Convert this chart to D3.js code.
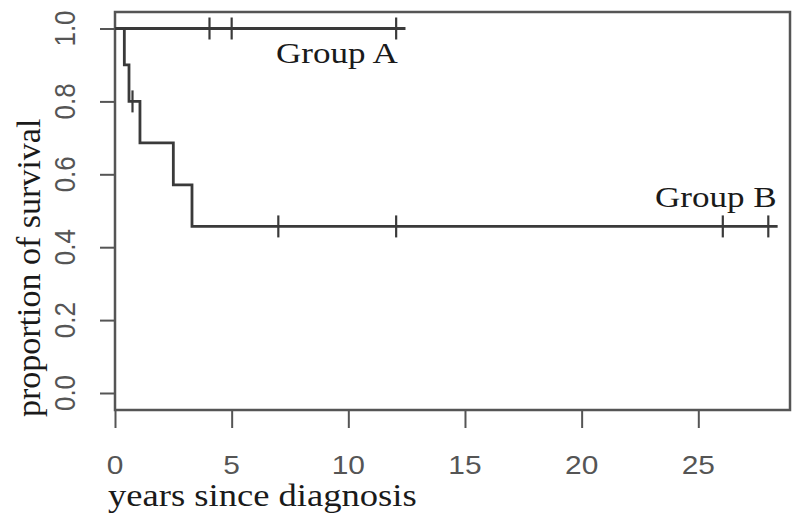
<!DOCTYPE html>
<html>
<head>
<meta charset="utf-8">
<script src="https://cdn.jsdelivr.net/npm/d3@7"></script>
<style>
  body { margin: 0; background: #fff; }
  svg { display: block; }
</style>
</head>
<body>
<svg id="chart" width="800" height="522"></svg>
<script>
// Kaplan-Meier estimates
const groupATimes = [0, 12.45]
const groupASurv = [1.0, 1.0]
const groupACensor = [4.05, 5.0, 12.05]

const groupBTimes = [0, 0.4, 0.6, 1.07, 2.5, 3.3, 28.4]
const groupBSurv = [1.0, 0.9, 0.8, 0.686, 0.571, 0.457, 0.457]
const groupBCensor = [0.75, 7.0, 12.05, 26.05, 28.0]

const xTicks = [0, 5, 10, 15, 20, 25]
const yTicks = [0, 0.2, 0.4, 0.6, 0.8, 1.0]

const BOX = { left: 115, right: 790, top: 12, bottom: 410 }
const LINE = '#3a3a3a'
const STRETCH = 1.15

const svg = d3.select('#chart')

const x = d3.scaleLinear().domain([0, 28.93]).range([BOX.left, BOX.right])
const y = d3.scaleLinear().domain([0, 1]).range([393, 28.5])

const toPts = (ts, ss) => ts.map((t, i) => ({ t: t, s: ss[i] }))
const stepAt = (ts, ss, t) => {
  let v = ss[0]
  ts.forEach((tt, i) => { if (tt <= t) v = ss[i] })
  return v
}

// axes
const gx = svg.append('g')
  .attr('transform', 'translate(0,' + BOX.bottom + ')')
  .call(d3.axisBottom(x).tickValues(xTicks).tickSize(18).tickPadding(0).tickFormat(d3.format('d')))
gx.select('.domain').remove()
gx.selectAll('line').attr('stroke', '#555').attr('stroke-width', 2)
gx.selectAll('text').remove()
xTicks.forEach(function(t) {
  svg.append('text')
    .attr('transform', 'translate(' + x(t) + ',474) scale(' + STRETCH + ',1)')
    .attr('text-anchor', 'middle')
    .attr('font-family', 'Liberation Sans, Arial, sans-serif')
    .attr('font-size', 26)
    .attr('fill', '#555')
    .text(t)
})

const gy = svg.append('g')
  .attr('transform', 'translate(' + BOX.left + ',0)')
  .call(d3.axisLeft(y).tickValues(yTicks).tickSize(15))
gy.select('.domain').remove()
gy.selectAll('line').attr('stroke', '#555').attr('stroke-width', 2)
gy.selectAll('text').remove()
yTicks.forEach(function(v) {
  svg.append('text')
    .attr('transform', 'translate(75,' + y(v) + ') rotate(-90) scale(1,' + STRETCH + ')')
    .attr('text-anchor', 'middle')
    .attr('font-family', 'Liberation Sans, Arial, sans-serif')
    .attr('font-size', 26)
    .attr('fill', '#555')
    .text(d3.format('.1f')(v))
})

// box
svg.append('rect')
  .attr('x', BOX.left).attr('y', BOX.top)
  .attr('width', BOX.right - BOX.left).attr('height', BOX.bottom - BOX.top)
  .attr('fill', 'none').attr('stroke', '#555').attr('stroke-width', 2.5)

// survival curves
const line = d3.line()
  .curve(d3.curveStepAfter)
  .x(function(d) { return x(d.t) })
  .y(function(d) { return y(d.s) })

function drawCurve(ts, ss, censor) {
  svg.append('path')
    .datum(toPts(ts, ss))
    .attr('d', line)
    .attr('fill', 'none')
    .attr('stroke', LINE)
    .attr('stroke-width', 2.8)
  svg.selectAll(null)
    .data(censor)
    .enter()
    .append('line')
    .attr('x1', function(d) { return x(d) })
    .attr('x2', function(d) { return x(d) })
    .attr('y1', function(d) { return y(stepAt(ts, ss, d)) - 11 })
    .attr('y2', function(d) { return y(stepAt(ts, ss, d)) + 11 })
    .attr('stroke', LINE)
    .attr('stroke-width', 2.2)
}

drawCurve(groupATimes, groupASurv, groupACensor)
drawCurve(groupBTimes, groupBSurv, groupBCensor)

// labels
function serif(txt, tx, ty, size, sx, sy) {
  svg.append('text')
    .attr('transform', 'translate(' + tx + ',' + ty + ')' + (sy ? ' rotate(-90)' : '') + ' scale(' + sx + ',1)')
    .attr('font-family', 'Liberation Serif, Times New Roman, serif')
    .attr('font-size', size)
    .attr('fill', '#1a1a1a')
    .text(txt)
}
serif('Group A', 276, 63, 30.5, STRETCH)
serif('Group B', 655, 207, 30.5, STRETCH)
serif('years since diagnosis', 108, 506, 31, 1.18)
serif('proportion of survival', 40, 417, 34, 1, true)
</script>
</body>
</html>
